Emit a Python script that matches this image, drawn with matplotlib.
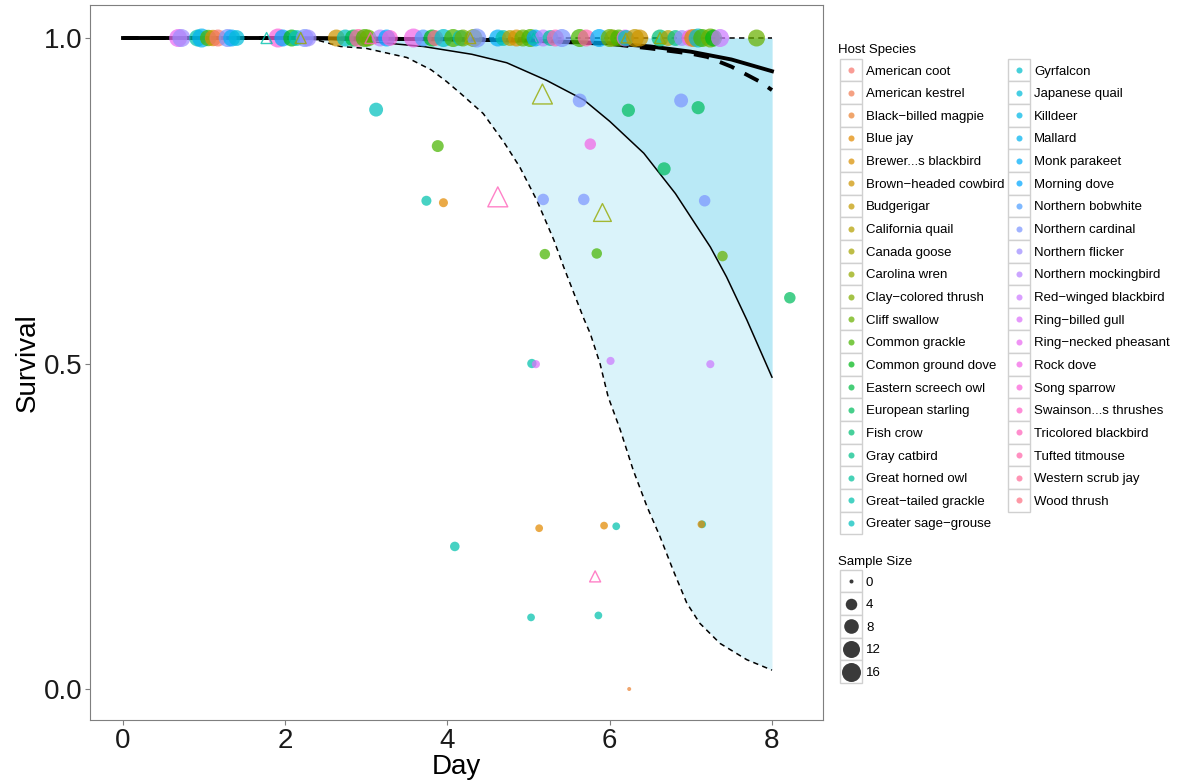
import numpy as np
import matplotlib
matplotlib.use("Agg")
import matplotlib.pyplot as plt
from matplotlib.patches import Rectangle

plt.rcParams['font.family'] = ['Liberation Sans', 'DejaVu Sans']

# ---- data ----
species = ["American coot", "American kestrel", "Black\u2212billed magpie", "Blue jay",
           "Brewer...s blackbird", "Brown\u2212headed cowbird", "Budgerigar", "California quail",
           "Canada goose", "Carolina wren", "Clay\u2212colored thrush", "Cliff swallow",
           "Common grackle", "Common ground dove", "Eastern screech owl", "European starling",
           "Fish crow", "Gray catbird", "Great horned owl", "Great\u2212tailed grackle",
           "Greater sage\u2212grouse", "Gyrfalcon", "Japanese quail", "Killdeer", "Mallard",
           "Monk parakeet", "Morning dove", "Northern bobwhite", "Northern cardinal",
           "Northern flicker", "Northern mockingbird", "Red\u2212winged blackbird",
           "Ring\u2212billed gull", "Ring\u2212necked pheasant", "Rock dove", "Song sparrow",
           "Swainson...s thrushes", "Tricolored blackbird", "Tufted titmouse",
           "Western scrub jay", "Wood thrush"]

# circles: day, survival, species index, sample size
pt_day = [0.68, 0.72, 0.92, 0.97, 1.05, 1.11, 1.17, 1.29, 1.34, 1.40, 1.91, 1.97, 2.08, 2.14,
          2.24, 2.28, 2.63, 2.74, 2.84, 2.90, 2.98, 3.02, 3.17, 3.25, 3.29, 3.58, 3.70, 3.81,
          3.85, 3.95, 4.07, 4.16, 4.19, 4.32, 4.36, 4.62, 4.69, 4.77, 4.85, 4.93, 5.02, 5.08,
          5.18, 5.27, 5.33, 5.41, 5.63, 5.71, 5.87, 6.00, 6.04, 6.11, 6.19, 6.20, 6.31, 6.37,
          6.62, 6.72, 6.81, 6.89, 6.99, 7.03, 7.09, 7.14, 7.24, 7.28, 7.36, 7.81,
          3.12, 3.88, 5.63, 6.23, 6.88, 7.09, 5.76, 6.67, 3.74, 3.95, 5.18, 5.68, 7.17,
          5.20, 5.84, 7.39, 8.22, 5.04, 5.09, 6.01, 7.24, 5.13, 5.93, 6.08, 7.14, 7.13,
          4.09, 5.03, 5.86, 6.24]
pt_surv = [1.0] * 68 + [0.890, 0.834, 0.904, 0.889, 0.904, 0.893, 0.837, 0.799, 0.750, 0.747,
                        0.752, 0.752, 0.750, 0.668, 0.669, 0.665, 0.601, 0.500, 0.499, 0.504,
                        0.499, 0.247, 0.251, 0.250, 0.253, 0.253, 0.219, 0.110, 0.113, 0.000]
pt_sp = [33, 29, 19, 24, 12, 4, 0, 28, 25, 22, 35, 26, 13, 20, 28, 29, 5, 20, 14, 38, 12, 11,
         30, 26, 35, 34, 27, 13, 39, 21, 12, 20, 11, 10, 28, 25, 19, 7, 4, 11, 12, 26, 30, 18,
         37, 28, 12, 38, 25, 11, 10, 12, 32, 20, 6, 5, 16, 7, 17, 29, 35, 4, 21, 12, 11, 13,
         31, 11,
         20, 12, 28, 15, 28, 15, 34, 15, 19, 3, 28, 28, 28, 12, 12, 11, 15, 19, 32, 31, 31,
         3, 3, 19, 19, 3, 19, 19, 19, 2]
pt_n = [14, 14, 12, 16, 11, 11, 12, 14, 12, 10, 16, 12, 12, 10, 14, 12, 12, 12, 12, 14, 14, 12,
        12, 12, 10, 16, 12, 12, 10, 14, 14, 10, 12, 14, 16, 12, 10, 10, 12, 12, 14, 12, 12, 10,
        12, 14, 14, 12, 14, 14, 12, 12, 12, 10, 14, 12, 12, 10, 10, 10, 12, 14, 16, 14, 16, 12,
        14, 12,
        7, 4.5, 7, 6, 7, 6, 4, 6, 2.6, 1.8, 4, 4, 4, 3, 3, 3, 4, 2, 1.2, 1.2, 1.2, 1.0, 1.0,
        1.0, 1.0, 1.0, 2.2, 1.0, 1.0, 0]

# open triangles
tri_day = [1.77, 2.19, 3.05, 4.28, 5.06, 6.20, 6.62, 5.17, 4.62, 5.91, 5.82]
tri_surv = [1.0, 1.0, 1.0, 1.0, 1.0, 1.0, 1.0, 0.914, 0.756, 0.732, 0.173]
tri_sp = [19, 9, 37, 8, 19, 8, 9, 9, 37, 9, 37]
tri_n = [3, 3, 3, 3, 2, 2, 3, 16, 16, 12, 3]

# model curves
fit_day = [0, 1, 2, 3, 4, 5, 6, 6.5, 7, 7.5, 8]
fit_surv = [1, 1, 1, 0.999, 0.998, 0.996, 0.992, 0.987, 0.979, 0.967, 0.949]
fit2_day = [0, 1, 2, 3, 4, 5, 6, 6.5, 7, 7.2, 7.5, 7.85, 8]
fit2_surv = [1, 1, 1, 0.999, 0.998, 0.996, 0.991, 0.984, 0.976, 0.971, 0.956, 0.933, 0.92]
mid_day = [2.3, 3.0, 3.7, 4.3, 4.73, 5.22, 5.68, 6.0, 6.42, 6.81, 7.24, 7.44, 7.69, 8.0]
mid_surv = [1.0, 0.995, 0.987, 0.975, 0.962, 0.935, 0.905, 0.872, 0.823, 0.761, 0.679, 0.633,
            0.567, 0.479]
low_day = [2.3, 2.68, 3.0, 3.5, 3.8, 3.99, 4.16, 4.44, 4.69, 4.89, 5.10, 5.31, 5.43, 5.68,
           5.76, 5.88, 5.98, 6.13, 6.29, 6.46, 6.62, 6.78, 6.95, 7.11, 7.36, 7.69, 8.0]
low_surv = [1.0, 0.987, 0.984, 0.97, 0.951, 0.933, 0.915, 0.884, 0.841, 0.802, 0.751, 0.69,
            0.649, 0.569, 0.546, 0.50, 0.449, 0.398, 0.336, 0.28, 0.234, 0.183, 0.132, 0.101,
            0.07, 0.045, 0.029]

legend_sizes = [0, 4, 8, 12, 16]


def hcl2hex(h, c, l):
    hr = np.deg2rad(h)
    u, v = c * np.cos(hr), c * np.sin(hr)
    Y = 100 * ((l + 16) / 116) ** 3 if l > 8 else 100 * l / 903.3
    Xn, Yn, Zn = 95.047, 100.0, 108.883
    den = Xn + 15 * Yn + 3 * Zn
    un, vn = 4 * Xn / den, 9 * Yn / den
    q = u / (13 * l) + un
    r = v / (13 * l) + vn
    X = 9 * Y * q / (4 * r)
    Z = Y * (12 - 3 * q - 20 * r) / (4 * r)
    M = np.array([[3.240479, -1.537150, -0.498535],
                  [-0.969256, 1.875992, 0.041556],
                  [0.055648, -0.204043, 1.057311]])
    lin = M @ (np.array([X, Y, Z]) / 100)
    rgb = np.where(lin <= 0.0031308, 12.92 * lin, 1.055 * np.abs(lin) ** (1 / 2.4) - 0.055)
    return tuple(np.clip(rgb, 0, 1))


hues = np.linspace(15, 375, len(species) + 1)[:-1]
pal = [hcl2hex(h % 360, 100, 65) for h in hues]
ALPHA = 0.72


def dia_px(n):
    return 4 + 15 * np.sqrt(np.asarray(n, dtype=float) / 16)


def area(n):
    return (dia_px(n) * 0.72) ** 2


# ---- figure ----
fig = plt.figure(figsize=(11.78, 7.84), dpi=100)
ax = fig.add_axes([90 / 1178, 64 / 784, 733 / 1178, 715 / 784])

ax.fill_between(low_day, low_surv, 1.0, color="#DAF3FA", lw=0)
ax.fill_between(mid_day, mid_surv, 1.0, color="#B9E9F6", lw=0)
ax.plot(low_day, low_surv, color="black", lw=1.1, dashes=(3.5, 2.8))
ax.plot(mid_day, mid_surv, color="black", lw=1.1)
ax.plot([0, 8], [1.0, 1.0], color="black", lw=1.1, dashes=(3.5, 2.8))
ax.plot(fit2_day, fit2_surv, color="black", lw=2.8, dashes=(4, 3))
ax.plot(fit_day, fit_surv, color="black", lw=2.8)

ax.scatter(pt_day, pt_surv, s=area(pt_n), c=[pal[i] for i in pt_sp], alpha=ALPHA,
           linewidths=0, zorder=3)
ax.scatter(tri_day, tri_surv, s=area(tri_n) * 1.1, marker="^", facecolors="none",
           edgecolors=[pal[i] for i in tri_sp], linewidths=1.0, alpha=0.8, zorder=3)

ax.set_xlim(-0.407, 8.629)
ax.set_ylim(-0.0476, 1.0507)
ax.set_xticks([0, 2, 4, 6, 8])
ax.set_yticks([0.0, 0.5, 1.0])
ax.set_yticklabels(["0.0", "0.5", "1.0"])
ax.tick_params(labelsize=20, length=3.5, width=0.8, color="#7f7f7f", pad=2,
               labelcolor="#1a1a1a")
for sp in ax.spines.values():
    sp.set_color("#7f7f7f")
    sp.set_linewidth(0.8)
ax.set_xlabel("Day", fontsize=20, labelpad=0)
ax.set_ylabel("Survival", fontsize=20, labelpad=2)

# ---- legends (pixel coordinates) ----
lg = fig.add_axes([0, 0, 1, 1])
lg.set_xlim(0, 1178)
lg.set_ylim(784, 0)
lg.axis("off")

row = 22.65
fs = 9.5
dy = 1.5  # nudge text so it sits centred like the reference
lg.text(838, 48 + dy, "Host Species", fontsize=fs, va="center", ha="left")
nrow = int(np.ceil(len(species) / 2))
for i, name in enumerate(species):
    col, r = divmod(i, nrow)
    kx = 840 + col * 168
    cy = 70 + r * row
    lg.add_patch(Rectangle((kx, cy - row / 2), 22, row, facecolor="white",
                           edgecolor="#d0d0d0", lw=1.0))
    lg.scatter([kx + 11], [cy], s=area(0.3), color=pal[i], alpha=ALPHA, linewidths=0)
    lg.text(kx + 26, cy + dy, name, fontsize=fs, va="center", ha="left")

lg.text(838, 560 + dy, "Sample Size", fontsize=fs, va="center", ha="left")
for j, n in enumerate(legend_sizes):
    cy = 581 + j * row
    lg.add_patch(Rectangle((840, cy - row / 2), 22, row, facecolor="white",
                           edgecolor="#d0d0d0", lw=1.0))
    lg.scatter([851], [cy], s=area(n), color="#3a3a3a", linewidths=0, zorder=3)
    lg.text(866, cy + dy, str(n), fontsize=fs, va="center", ha="left")

fig.savefig("out.png", dpi=100)
